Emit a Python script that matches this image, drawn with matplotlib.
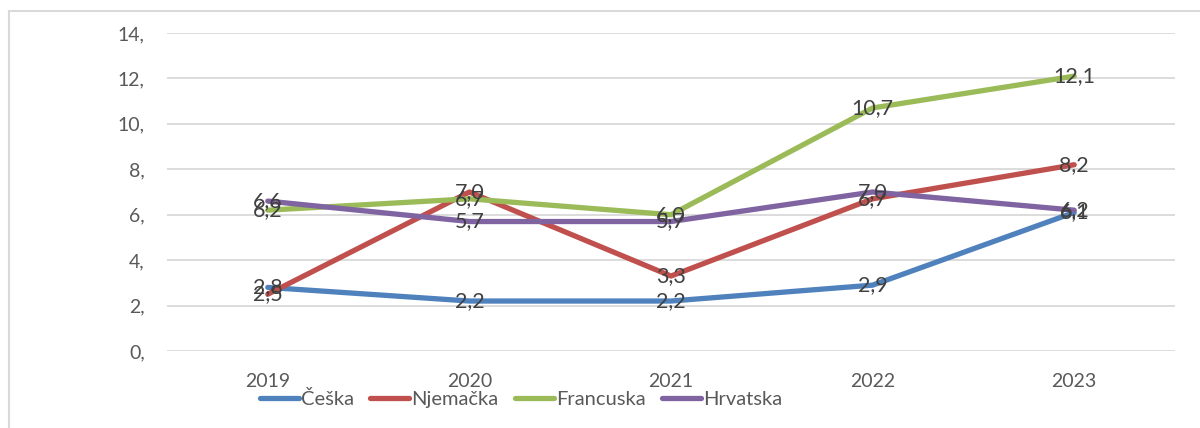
import matplotlib
matplotlib.use("Agg")
import matplotlib.pyplot as plt
from matplotlib.patches import Rectangle

years = ["2019", "2020", "2021", "2022", "2023"]
ceska = [2.8, 2.2, 2.2, 2.9, 6.1]
njemacka = [2.5, 7.0, 3.3, 6.7, 8.2]
francuska = [6.2, 6.7, 6.0, 10.7, 12.1]
hrvatska = [6.6, 5.7, 5.7, 7.0, 6.2]
series_names = ["Češka", "Njemačka", "Francuska", "Hrvatska"]
yticks = [0, 2, 4, 6, 8, 10, 12, 14]

colors = ["#4F81BD", "#C0504D", "#9BBB59", "#8064A2"]
plt.rcParams['font.family'] = ['Lato', 'DejaVu Sans']

W, H = 1200, 428
fig = plt.figure(figsize=(W / 100, H / 100), dpi=100)
ax = fig.add_axes([167 / W, 1 - 351 / H, (1175 - 167) / W, (351 - 33) / H])

x = list(range(len(years)))
all_series = [ceska, njemacka, francuska, hrvatska]
for name, vals, c in zip(series_names, all_series, colors):
    ax.plot(x, vals, color=c, lw=3.8, label=name, solid_capstyle='round', zorder=3)
for vals in all_series:
    for xi, v in zip(x, vals):
        ax.text(xi, v, f"{v:.1f}".replace('.', ','), ha='center', va='center',
                fontsize=15.5, color='#404040', zorder=5)

ax.set_xlim(-0.5, len(years) - 0.5)
ax.set_ylim(0, 14)
ax.set_yticks(yticks)
ax.set_yticklabels([f"{t}," for t in yticks])
ax.set_xticks(x)
ax.set_xticklabels(years)
ax.tick_params(axis='y', length=0, pad=16, labelsize=14, labelcolor='#595959')
ax.tick_params(axis='x', length=0, pad=16, labelsize=14, labelcolor='#595959')
ax.grid(axis='y', color='#D9D9D9', lw=1.3)
ax.set_axisbelow(True)
for s in ax.spines.values():
    s.set_visible(False)

fig.legend(loc='center', bbox_to_anchor=(521 / W, 1 - 399 / H), ncol=4, frameon=False,
           fontsize=14.5, handlelength=1.95, handletextpad=0.1, columnspacing=0.8,
           labelcolor='#595959')

fig.patches.append(Rectangle((9 / W, -0.1), 1.2, 1.1 - 11 / H, transform=fig.transFigure,
                             fill=False, edgecolor='#D9D9D9', lw=1.5))

fig.savefig("out.png", dpi=100)
